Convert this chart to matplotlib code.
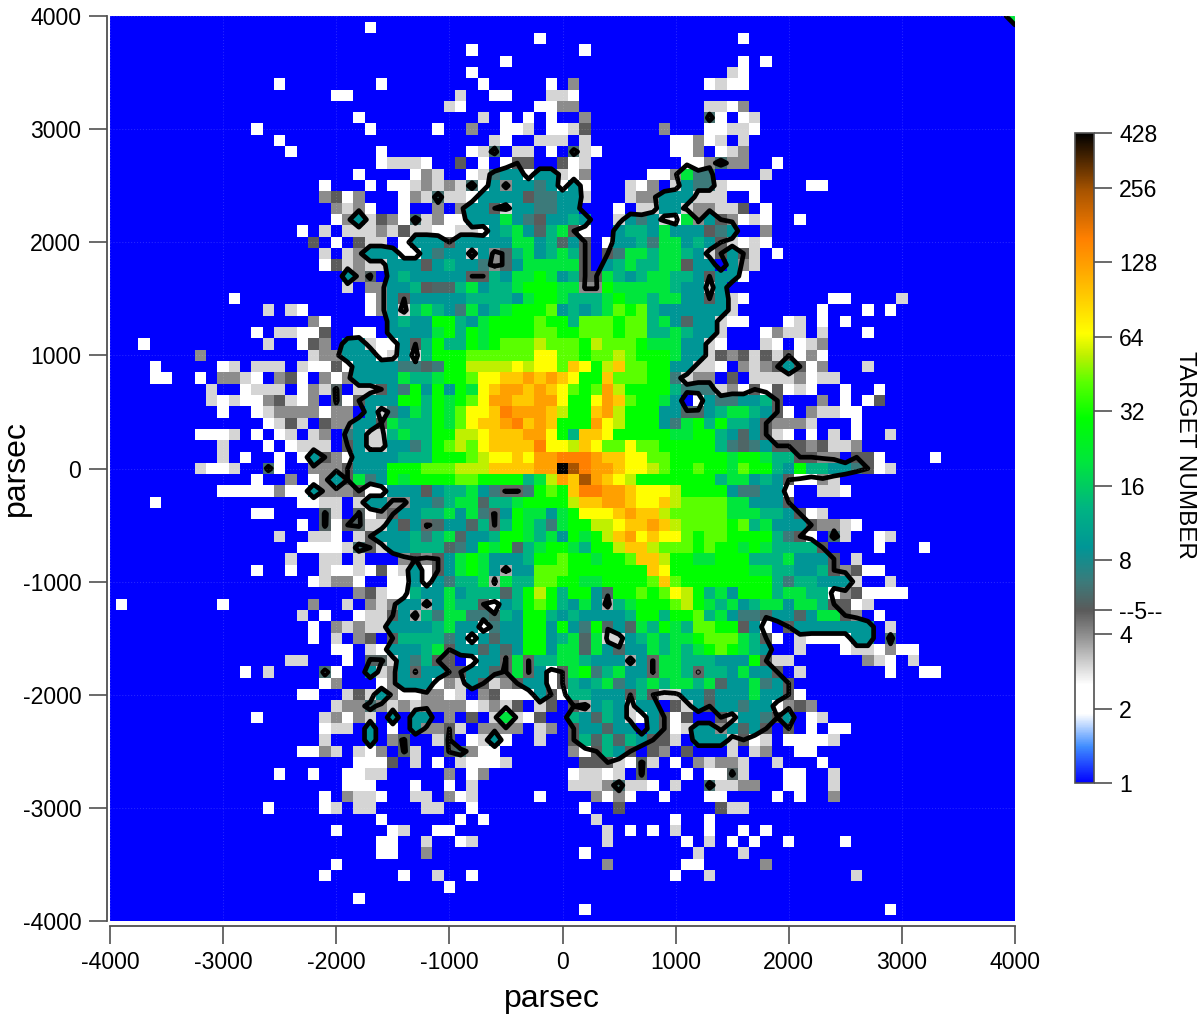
import matplotlib
matplotlib.use("Agg")
import matplotlib.pyplot as plt
import numpy as np
from matplotlib.colors import LinearSegmentedColormap, LogNorm

plt.rcParams["font.family"] = ["Liberation Sans", "DejaVu Sans"]
plt.rcParams["axes.unicode_minus"] = False

# target counts per 100 pc cell, top row first, left to right
# each letter is one estimated count, see level_values
count_rows = [
    ".......... .......... .......... .......... .......... .......... .......... .......... f",
    ".......... .......... ...w...... .......... .......... .......... .......... .......... .",
    ".......... .......... .......... ........w. .......... ......w... .......... .......... .",
    ".......... .......... .......... ..w....... ..w....... .......... .......... .......... .",
    ".......... .......... .......... .....w.... .......... ......w.w. .......... .......... .",
    ".......... .......... .......... ..w....... .......... .....lw... .......... .......... .",
    ".......... .....w.... ....w..... ...w.....w .g........ ...wlww... .......... .......... .",
    ".......... .......... ww........ .l..ww...l lw........ .......... .......... .......... .",
    ".......... .......... .......... lw......ww gg........ ...llwg... .......... .......... .",
    ".......... .......... ..w....... ...l.w.w.w ..g....... ...uw.wl.. .......... .......... .",
    ".......... ...w...... ...w.....w ..g..wwl.w wld......g ...wwllw.. .......... .......... .",
    ".......... .....w.... .......... ....lw..ll l.l....... wwgwl.l... .......... .......... .",
    ".......... ......w... ....w..... ..wlu.ll.w .ulw...... wwg.wlg... .......... .......... .",
    ".......... .......... ....wlllw. .d.w.wdd.. dwl....... .wwgugg..w .......... .......... .",
    ".......... .......... ..w....wgl ..wltaawaa lwg.....ww gftt....l. .......... .......... .",
    ".......... .........w ...w.wwlgl gluwagaata waw...lwg. lattlwww.. ..ww...... .......... .",
    ".......... .........g dwg...wglu llwaaaadtt aal...lgga aalll..w.. .......... .......... .",
    ".......... .......... glgw..w..g .gaadlaatt aa...w.lla algglld.w. .......... .......... .",
    ".......... .......... wgaldgwulg wwaaafatda asa..latal wfgadgwlw. .w........ .......... .",
    ".......... .......w.l .lllgldllw wllwasfans fdw..assaf aaadta..g. .......... .......... .",
    ".......... ........d. w.dll.waaa daaaaaffas nad.waastf fasadlwlw. .......... .......... .",
    ".......... .........l .lgaaawwat aalagnsfas fsd.dtffsf fsaldadl.w .......... .......... .",
    ".......... .........w dlgllaaada saatgnafff ffd.asfssf fdaa.agl.. .......... .......... .",
    ".......... .......... .agx.asaaa aaddsaffhf asddfsasff ssadaaw... .......... .......... .",
    ".......... .......... .l.ggaasdn nsfassfhhh ffgghfffff saala..... .......... .......... .",
    ".......... .w........ ...wgadaaa aassssafhh fsssfhffsf faadalw... ....ww.... l......... .",
    ".......... ....l.lw.. ...wgalsfs atfasfhhhi asasfihisa aaaaal.... ...w...w.w .......... .",
    ".......... ........gw .....asaah hsafhhhhih hsiiihiisf anaalww... wl.w.w.... .......... .",
    ".......... ...w.llwwd ..ww.aaaaf hshfhhhhii hhiiihiiss fsaal...wg ll.l...w.. .......... .",
    "...w...... ....l..wdg .aalwwadsh sshfhiiiji iihjiiihff faalw...lw .wlg...... .......... .",
    "........g. ........lg gaaawlalsh hhiiiiiiyy iihiijihhh faaldgdldl dwgw...... .......... .",
    "....w..... wl.lll.lww dwaaaattnt hhjjjjyjyy ioyhjoiihh aallw.glgd adwg...l.. .......... .",
    "....ww..w. gglw.gdw.g wgaaaafssf hhiyyoopop oyhhoiiihh tlgg.d.lll lgwll..... .......... .",
    ".........l ..wlll.wgl x.lldathah ahfyoppopo yihipjhhhh stttlgwdwd wlw..w..w. .......... .",
    ".........l wlwwgdlwg. xwdaaahhsh fhiyppoopp yhhypoihhf a.wattaasd ...g.w.wd. .......... .",
    ".......... w..wlggggw gg.altafsh fiyyoqpppo jhhopjhhha annasffsad w.gllww... .......... .",
    ".......... ....wldl.d ggaadfsssh fiyoopqopo hhhpyjhhha tfhshssadg ggl...w... .......... .",
    "........ww wl.w.wl.lg .tallsfssh hjjyoooppy hsooyhhhhh ffhhsanadl w.w.l.w..l .......... .",
    ".......... l...w.wlll .dallaatsh ijiyooooqy yjoyiiyiih hhhhstntad ddgdllg... .......... .",
    ".......... l.w..w.wad gwaaaasssh hhijyyoypp qqqpooyyii hhhhhfhhfs sddgg.ddw. ...w...... .",
    "........lw wl..uw..gg gdaaahhhii ijjjoooopp krqppoyyji hhihhfihhs ahssaatdwl .......... .",
    ".......... ...w..g.wg adftahfhhh hiihhhhsfj porpoyjhhh hhhhsffasa dwwgl..... .......... .",
    ".......... wwwwwgwwag ggdwwaaada ssfatzzthi hoqqppoyyy jhhhhattaa w..llw.... .......... .",
    "....w..... .......wwl l.laaggaat sffnssfhhh hjooppoyyo jiiiiffaaa d......... .......... .",
    ".......... ...ww....x l.xwgzaass faftzahffa fhyyyopooj iiiiifffss adwl...... .......... .",
    ".......... .......w.x wdxlladazn aanszshfst fhhjjyoopo jiiiihisfa aadgglw... .......... .",
    ".......... .....l..ll w.ldaaasts fnaashhfsf ahfhjopyoy yihiihhhhs tdw.ul..wl .......... .",
    ".......... .......www wludlaasss ntahfhnsfh hfshhjooji iihihhfhfs sssd....w. ..w....... .",
    ".......... ......l..l l.l...gdgd afhfaaashh ihhfhhiooj hhffhhhsss faaad.l... .......... .",
    ".......... ...w..w..l wwlwdwlawd afhfaeaaii ihhhhhhhoy hhhhhhhffs saasdgdww. .......... .",
    ".......... ........wl ggw..wwawa tssfefssii hhffhhhhio ihhhhhhhhs tssaaal..l .......... .",
    ".......... .......... ..gdlwwsaa fasssnshjh shhanhhihi yjhsfahhhs ffsswgdwww w......... .",
    ".w........ w.......g. .l.glgaaea fssdwashih safaesfhhh ijhfsfasff affsddwl.. .......... .",
    ".......... .......l.w ..wlldaest ffttnsahhs asaaaashhs hhisfattna anaffdg.w. .......... .",
    ".......... ........w. glgllaaaas faawtaahha hathnanfsh fsiihhdaw. daaaaaaa.l .......... .",
    ".......... ........w. l.gd.dssss tawanaahha sfnfllasfs ffhiiifsdw .lwwwwaa.u .......... .",
    ".......... .......... ww.lwaaasf daananahha ffnfanaafs fsfhihfsa. .l...wllwg ww........ .",
    ".......... ......ll.. .w.xxlatsd d.waazfzss ffsaaaeazf fsssaaahdl l......glw .l........ .",
    ".......... ..w.l....u w..algazaa ddaanzfzaw dfhtsfaazf fszssafaad .l.......w ..ww...... .",
    ".......... .........w g...wgaaaw gladlgdaaw dsasftasfs ffsfnaafta d......... .......... .",
    ".......... .......ww. .ldlagwwgg wl.gdwwwad wssaaadsdl laanaaafaa dw........ .......... .",
    ".......... .......... lgguglglgg ggwlgld.ld .deasalaa. dladaataaw gdg....... .......... .",
    ".......... ...w.....l gwgl.a.aa. g.d.lflwd. .sansalwad wd..dlaatd a.wl...... .......... .",
    ".......... .........w ll.a.w.agg dl.gggg.lg .daanaa.ad wlaaganad. d.w.ww.... .......... .",
    ".......... .........l ...a.gx..l x.wlaw..l. .dsnsnsadd l.aaaldwl. wwwwl..... .......... .",
    ".......... .......wwg l.lwg.xl.. xugww..... .gwdsad.dg .d...l.lg. .ww....... .......... .",
    ".......... .......... ..wwwd.l.w .lwwwl.... ..dddlwxl. w.glggl..l ...w...... .......... .",
    ".......... .....w..w. .wwll..... g.wg...... .wllwl.x.. .w.wwxl... ww..l..... .......... .",
    ".......... .......... .www...w.. w.l....... .lllgullw. l..ullgg.. ww..l..... .......... .",
    ".......... .........w .gllw..ll. gwl.....w. ...gwgw..w ...ww....w .w..g..... .......... .",
    ".......... ....w....w l.ll....ll ..w....... ..w..d.... ....dll... .......... .......... .",
    ".......... .......... ....w..... .w.w...... ...l...... w..w...... .......... .......... .",
    ".......... .......... w....wl..w w......... ....l.w.w. l..w..w.w. .......... .......... .",
    ".......... .......... ....ww..l. .wl....... ....l..... .w.l.w.w.. w....w.... .......... .",
    ".......... .......... ....ww..g. .......... ..w....... ..l...l... .......... .......... .",
    ".......... .......... w......... .......... ....g..... .ww.....g. .......... .......... .",
    ".......... .........w ......w..l ..w....... .......... w..l...... ......l... .......... .",
    ".......... .......... .......... w......... .......... .......... .......... .......... .",
    ".......... .......... ..w....... .......... .......... .......... .......... .......... .",
    ".......... .......... .......... .......... ..w....... .......... .........w .......... .",
    ".......... .......... .......... .......... .......... .......... .......... .......... .",
]

level_values = {
    ".": 1, "w": 2.2, "l": 3, "e": 3.5, "g": 4, "z": 4.8, "d": 5, "x": 5.3, "n": 5.5, "u": 6,
    "t": 6.5, "a": 9, "s": 13, "f": 20, "h": 30, "i": 42, "j": 54, "y": 66, "o": 95, "p": 125,
    "q": 160, "r": 250, "k": 428,
}

cell_pc = np.arange(-4000, 4001, 100)
colorbar_ticks = [1, 2, 4, 5, 8, 16, 32, 64, 128, 256, 428]
colorbar_labels = ["1", "2", "4", "--5--", "8", "16", "32", "64", "128", "256", "428"]
axis_ticks = [-4000, -3000, -2000, -1000, 0, 1000, 2000, 3000, 4000]

rows = [r.replace(" ", "") for r in count_rows]
bad = [(n, len(r)) for n, r in enumerate(rows) if len(r) != 81]
if bad or len(rows) != 81:
    raise ValueError(f"bad rows {bad} of {len(rows)}")
counts = np.array([[level_values[c] for c in r] for r in rows], dtype=float)[::-1]

# colour table anchored on the count values of the colour bar
anchors = [
    (1, "#0000ff"), (1.4, "#3f8cff"), (1.9, "#ffffff"), (2.5, "#ffffff"), (3, "#d4d4d4"),
    (4, "#8c8c8c"), (5, "#5a5a5a"), (6.5, "#3c7a7a"), (9, "#009696"), (13, "#00b482"),
    (20, "#00e63c"), (30, "#00ff00"), (42, "#5aff00"), (54, "#bef000"), (66, "#ffff00"),
    (95, "#ffc800"), (125, "#ffa000"), (160, "#ff8000"), (250, "#a85400"), (428, "#000000"),
]
pos = [np.log(v) / np.log(428) for v, _ in anchors]
target_cmap = LinearSegmentedColormap.from_list("target", list(zip(pos, [c for _, c in anchors])), N=1024)
norm = LogNorm(vmin=1, vmax=428)

fig = plt.figure(figsize=(12, 10.19), dpi=100)
ax = fig.add_axes([110 / 1200, 1 - 921 / 1019, 905 / 1200, 905 / 1019])

mesh = ax.pcolormesh(cell_pc, cell_pc, counts, cmap=target_cmap, norm=norm, shading="nearest", rasterized=True)
contours = ax.contour(cell_pc, cell_pc, counts, levels=[5], colors="black", linewidths=3.4)
contours.set_joinstyle("round")
contours.set_capstyle("round")

ax.set_xlim(-4000, 4000)
ax.set_ylim(-4000, 4000)
ax.set_xticks(axis_ticks)
ax.set_yticks(axis_ticks)
ax.grid(True, color="#ffffff", alpha=0.15, linestyle=":", linewidth=0.8)
ax.set_axisbelow(False)
ax.tick_params(axis="both", direction="out", length=13, width=1.2, color="#505050", labelsize=16.6)
ax.tick_params(axis="x", pad=5)
ax.tick_params(axis="y", pad=5.5)
ax.spines["top"].set_visible(False)
ax.spines["right"].set_visible(False)
ax.spines["left"].set_position(("outward", 2.2))
ax.spines["bottom"].set_position(("outward", 3.4))
for side in ["left", "bottom"]:
    ax.spines[side].set_linewidth(1.3)
    ax.spines[side].set_color("#505050")
ax.set_xlabel("parsec", fontsize=23)
ax.set_ylabel("parsec", fontsize=23)
ax.xaxis.set_label_coords((552 - 110) / 905, -(984 - 921) / 905)
ax.yaxis.set_label_coords((31 - 110) / 905, 0.5)

cax = fig.add_axes([1075 / 1200, 1 - 783 / 1019, 19 / 1200, 650 / 1019])
cbar = fig.colorbar(mesh, cax=cax)
cbar.set_ticks(colorbar_ticks, labels=colorbar_labels)
cbar.ax.minorticks_off()
cbar.ax.tick_params(length=13, width=1.2, color="#505050", labelsize=16.6, pad=5)
cbar.outline.set_edgecolor("#505050")
cbar.outline.set_linewidth(1.2)
cbar.set_label("TARGET NUMBER", rotation=270, fontsize=17.5, va="center")
cbar.ax.yaxis.set_label_coords((1185 - 1075) / 19, 0.505)

fig.savefig("out.png", dpi=100)
plt.close(fig)
